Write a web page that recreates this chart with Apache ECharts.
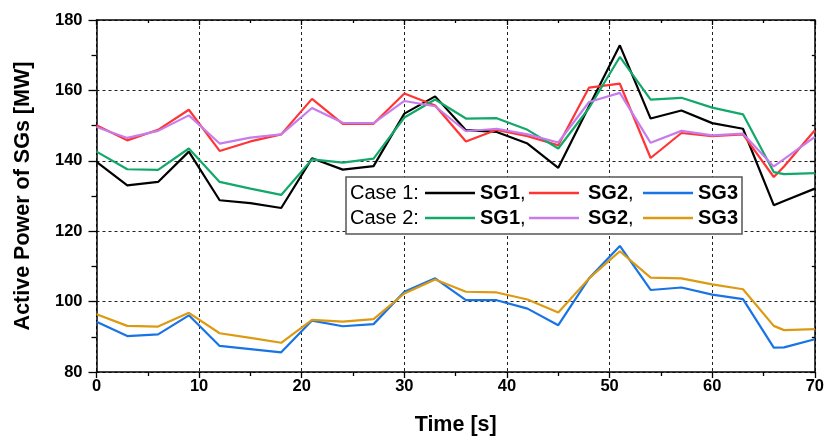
<!DOCTYPE html>
<html>
<head>
<meta charset="utf-8">
<script src="https://cdn.jsdelivr.net/npm/echarts@6/dist/echarts.min.js"></script>
<style>html,body{margin:0;padding:0;background:#fff}#c{width:827px;height:442px}</style>
</head>
<body>
<div id="c"></div>
<script>
const time = [0,3,6,9,12,15,18,21,24,27,30,33,36,39,42,45,48,51,54,57,60,63,66,67,70];
const case1SG1 = [139.7,133.0,134.0,142.6,128.8,128.0,126.6,140.7,137.5,138.5,153.4,158.3,148.7,148.2,144.9,138.0,155.5,172.8,152.0,154.3,150.7,149.1,127.4,128.6,132.1];
const case1SG2 = [150.1,145.8,148.8,154.5,142.8,145.5,147.5,157.6,150.5,150.5,159.1,155.7,145.5,148.8,147.0,144.4,160.8,161.9,140.8,147.9,147.0,147.5,135.4,138.4,148.7];
const case1SG3 = [94.3,90.2,90.7,96.1,87.4,86.5,85.6,94.6,93.0,93.6,102.8,106.6,100.4,100.4,98.0,93.3,106.6,115.8,103.3,104.0,102.0,100.7,86.9,87.0,89.3];
const case2SG1 = [142.6,137.6,137.4,143.5,134.0,132.1,130.3,140.4,139.5,140.6,152.3,157.4,152.0,152.1,148.8,143.5,155.0,169.5,157.4,157.9,155.1,153.2,136.8,136.2,136.5];
const case2SG2 = [149.6,146.5,148.5,152.9,144.9,146.6,147.5,155.0,150.8,150.7,157.0,155.5,148.4,149.1,147.5,145.2,156.7,159.3,145.1,148.5,147.2,147.7,138.4,140.5,146.8];
const case2SG3 = [96.4,93.1,92.9,96.8,91.0,89.7,88.3,94.8,94.3,95.0,102.3,106.3,102.8,102.6,100.6,96.9,106.6,114.3,106.8,106.6,104.9,103.5,93.1,91.9,92.2];

const seriesDefs = [
  {name:'Case 1 SG1', label:'SG1', comma:true, pad:false, data:case1SG1, color:'#000000'},
  {name:'Case 1 SG2', label:'SG2', comma:true, pad:true, data:case1SG2, color:'#FF3535'},
  {name:'Case 1 SG3', label:'SG3', comma:false, pad:false, data:case1SG3, color:'#1874E4'},
  {name:'Case 2 SG1', label:'SG1', comma:true, pad:false, data:case2SG1, color:'#12A86A'},
  {name:'Case 2 SG2', label:'SG2', comma:true, pad:true, data:case2SG2, color:'#C77CEB'},
  {name:'Case 2 SG3', label:'SG3', comma:false, pad:false, data:case2SG3, color:'#DC9A12'}
];

const FONT = 'Liberation Sans, Arial, sans-serif';
const chart = echarts.init(document.getElementById('c'), null, {renderer:'canvas'});

const legendLefts = [425, 529, 643];
const legendTops = [183, 208];
const legends = seriesDefs.map((s, i) => ({
  data: [s.name],
  left: legendLefts[i % 3],
  top: legendTops[Math.floor(i / 3)],
  padding: 0,
  itemWidth: 50,
  itemHeight: 2.6,
  icon: 'rect',
  selectedMode: false,
  z: 20,
  formatter: () => (s.pad ? '{p|}' : '') + '{b|' + s.label + '}' + (s.comma ? '{c|,}' : ''),
  textStyle: {
    fontFamily: FONT,
    rich: {
      p: {width: 4, fontSize: 20},
      b: {fontSize: 20, fontWeight: 'bold', color: '#000', fontFamily: FONT},
      c: {fontSize: 20, color: '#000', fontFamily: FONT}
    }
  }
}));

const axisLineStyle = {color:'#000', width:1.5};
const option = {
  animation: false,
  backgroundColor: '#fff',
  grid: {left: 96.5, right: 10.5, top: 20, bottom: 70, containLabel: false},
  legend: legends,
  xAxis: [{
    type: 'value', min: 0, max: 70, interval: 10, position: 'bottom',
    name: 'Time [s]', nameLocation: 'middle', nameGap: 42,
    nameTextStyle: {fontFamily: FONT, fontWeight: 'bold', fontSize: 21.5, color: '#000'},
    axisLine: {show: true, onZero: false, lineStyle: axisLineStyle},
    axisTick: {show: true, inside: false, length: 6, lineStyle: {color:'#000', width:1.3}},
    minorTick: {show: true, splitNumber: 2, length: 4, lineStyle: {color:'#000', width:1.3}},
    axisLabel: {fontFamily: FONT, fontWeight: 'bold', fontSize: 16.5, color: '#000', margin: 6},
    splitLine: {show: true, lineStyle: {color:'#222', type:[3,3], width:1}}
  }, {
    type: 'value', min: 0, max: 70, interval: 10, position: 'top',
    axisLine: {show: true, onZero: false, lineStyle: axisLineStyle},
    axisTick: {show: true, inside: true, length: 5, lineStyle: {color:'#000', width:1.3}},
    minorTick: {show: true, splitNumber: 2, length: 3, lineStyle: {color:'#000', width:1.3}},
    axisLabel: {show: false}, splitLine: {show: false}
  }],
  yAxis: [{
    type: 'value', min: 80, max: 180, interval: 20, position: 'left',
    name: 'Active Power of SGs [MW]', nameLocation: 'middle', nameGap: 62,
    nameTextStyle: {fontFamily: FONT, fontWeight: 'bold', fontSize: 21.5, color: '#000'},
    axisLine: {show: true, onZero: false, lineStyle: axisLineStyle},
    axisTick: {show: true, inside: false, length: 8, lineStyle: {color:'#000', width:1.3}},
    minorTick: {show: true, splitNumber: 2, length: 5, lineStyle: {color:'#000', width:1.3}},
    axisLabel: {fontFamily: FONT, fontWeight: 'bold', fontSize: 16.5, color: '#000', margin: 14},
    splitLine: {show: true, lineStyle: {color:'#222', type:[3,3], width:1}}
  }, {
    type: 'value', min: 80, max: 180, interval: 20, position: 'right',
    axisLine: {show: true, onZero: false, lineStyle: axisLineStyle},
    axisTick: {show: true, inside: true, length: 5, lineStyle: {color:'#000', width:1.3}},
    minorTick: {show: true, splitNumber: 2, length: 3, lineStyle: {color:'#000', width:1.3}},
    axisLabel: {show: false}, splitLine: {show: false}
  }],
  graphic: [
    {type:'rect', z: 15, shape:{x:346, y:177, width:396, height:57},
     style:{fill:'#fff', stroke:'#555', lineWidth:1.5}},
    {type:'text', z: 20, left: 350, top: 183,
     style:{text:'Case 1:', fontFamily: FONT, fontSize: 20, fill:'#000'}},
    {type:'text', z: 20, left: 350, top: 208,
     style:{text:'Case 2:', fontFamily: FONT, fontSize: 20, fill:'#000'}}
  ],
  series: seriesDefs.map(s => ({
    name: s.name, type: 'line', xAxisIndex: 0, yAxisIndex: 0,
    data: time.map((t, k) => [t, s.data[k]]),
    symbol: 'none', smooth: false,
    lineStyle: {color: s.color, width: 2.2},
    itemStyle: {color: s.color},
    z: 2
  }))
};
chart.setOption(option);
</script>
</body>
</html>
